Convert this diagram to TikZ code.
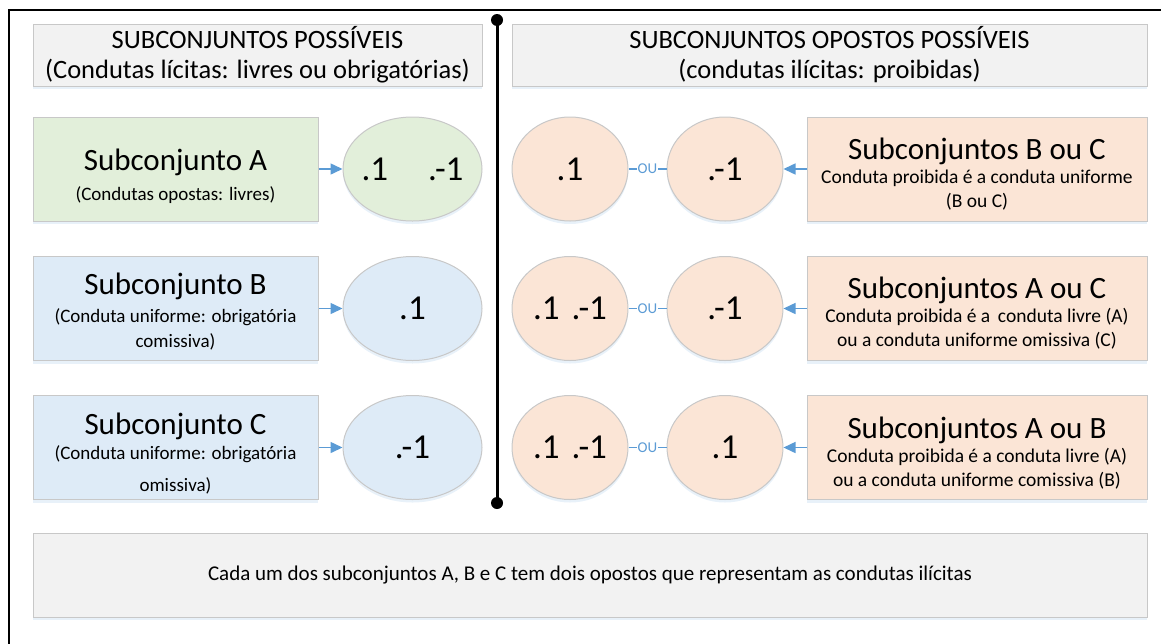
\documentclass[tikz,border=0pt]{standalone}
\usepackage{fontspec}
\setmainfont{Carlito}
\usetikzlibrary{shadows,arrows.meta,positioning,shapes.geometric}
\definecolor{gfill}{HTML}{E2EFDA}
\definecolor{bfill}{HTML}{DEEBF7}
\definecolor{ofill}{HTML}{FBE5D6}
\definecolor{hfill}{HTML}{F2F2F2}
\definecolor{edgec}{HTML}{C8C8C8}
\definecolor{arrowc}{HTML}{5B9BD5}
\definecolor{shadc}{HTML}{BDD7EE}
\tikzset{
  x=1pt, y=-1pt,
  base/.style={draw=edgec, line width=1pt, align=center, inner sep=0pt,
    drop shadow={shadow xshift=0pt, shadow yshift=-3pt, opacity=0.35, fill=shadc}},
  hdr/.style={base, rectangle, fill=hfill, minimum width=449pt, minimum height=62pt, font=\fontsize{26.5}{30}\selectfont},
  boxl/.style={base, rectangle, minimum width=285pt, minimum height=104pt},
  boxr/.style={base, rectangle, fill=ofill, minimum width=340pt, minimum height=104pt},
  txtl/.style={align=center, inner sep=0pt, font=\fontsize{19}{25}\selectfont},
  txtr/.style={align=center, inner sep=0pt, font=\fontsize{19.5}{24}\selectfont},
  numt/.style={inner sep=0pt, font=\fontsize{35}{36}\selectfont},
  ell/.style={base, ellipse, minimum width=139pt, minimum height=104pt, font=\fontsize{35}{36}\selectfont},
  circ/.style={base, ellipse, fill=ofill, minimum width=116pt, minimum height=104pt, font=\fontsize{35}{36}\selectfont},
  arr/.style={draw=arrowc, line width=1.5pt, -{Triangle[length=12pt,width=11pt]}},
  oul/.style={draw=arrowc, line width=1.2pt},
  oulab/.style={text=arrowc, font=\fontsize{15}{15}\selectfont, inner sep=1pt, fill=white},
}
\newcommand{\bigt}{\fontsize{31}{34}\selectfont}
\begin{document}
\begin{tikzpicture}
\useasboundingbox (0,0) rectangle (1161,643);
% outer frame (cropped)
\draw[line width=2pt] (1165,10) -- (9,10) -- (9,650);
% divider
\coordinate (dtop) at (497,20);
\coordinate (dbot) at (497,503);
\draw[line width=3pt] (dtop) -- (dbot);
\fill (dtop) circle (6);
\fill (dbot) circle (6);
% headers
\node[hdr] (h1) at (257.5,55) {SUBCONJUNTOS POSSÍVEIS\\(Condutas lícitas: livres ou obrigatórias)};
\node[hdr, minimum width=635pt] (h2) at (829.5,55) {SUBCONJUNTOS OPOSTOS POSSÍVEIS\\(condutas ilícitas: proibidas)};
% left column
\node[boxl, fill=gfill] (A) at (175.5,169) {};
\node[boxl, fill=bfill] (B) at (175.5,308.5) {};
\node[boxl, fill=bfill] (C) at (175.5,447.5) {};
\node[txtl] (At) at ([yshift=-7pt]A.center) {{\bigt Subconjunto A}\\[5pt](Condutas opostas: livres)};
\node[txtl] (Bt) at ([yshift=-3pt]B.center) {{\bigt Subconjunto B}\\[3pt](Conduta uniforme: obrigatória\\comissiva)};
\node[txtl] (Ct) at ([yshift=-6pt]C.center) {{\bigt Subconjunto C}\\[0pt](Conduta uniforme: obrigatória\\[7pt]omissiva)};
\node[ell, fill=gfill] (eA) at (412.5,169) {};
\node[numt] (eAt) at (eA.center) {.1\hspace{40pt}.-1};
\node[ell, fill=bfill] (eB) at (412.5,308.5) {.1};
\node[ell, fill=bfill] (eC) at (412.5,447.5) {.-1};
\draw[arr] (A.east) -- (eA.west);
\draw[arr] (B.east) -- (eB.west);
\draw[arr] (C.east) -- (eC.west);
% right column
\node[boxr] (RA) at (977,169) {};
\node[boxr] (RB) at (977,308.5) {};
\node[boxr] (RC) at (977,447.5) {};
\node[txtr] (RAt) at ([yshift=-5pt]RA.center) {{\bigt Subconjuntos B ou C}\\Conduta proibida é a conduta uniforme\\(B ou C)};
\node[txtr] (RBt) at ([yshift=-5pt]RB.center) {{\bigt Subconjuntos A ou C}\\Conduta proibida é a\, conduta livre (A)\\ou a conduta uniforme omissiva (C)};
\node[txtr] (RCt) at ([yshift=-6pt]RC.center) {{\bigt Subconjuntos A ou B}\\Conduta proibida é a conduta livre (A)\\ou a conduta uniforme comissiva (B)};
\node[circ] (p1) at (570,169) {.1};
\node[circ] (q1) at (725,169) {.-1};
\node[circ] (p2) at (570,308.5) {.1\hspace{12pt}.-1};
\node[circ] (q2) at (725,308.5) {.-1};
\node[circ] (p3) at (570,447.5) {.1\hspace{12pt}.-1};
\node[circ] (q3) at (725,447.5) {.1};
\draw[arr] (RA.west) -- (q1.east);
\draw[arr] (RB.west) -- (q2.east);
\draw[arr] (RC.west) -- (q3.east);
\draw[oul] (p1.east) -- node[oulab] {OU} (q1.west);
\draw[oul] (p2.east) -- node[oulab] {OU} (q2.west);
\draw[oul] (p3.east) -- node[oulab] {OU} (q3.west);
% bottom note
\node[base, rectangle, fill=hfill, minimum width=1114pt, minimum height=84pt, font=\fontsize{21}{24}\selectfont] (note) at (590,575) {Cada um dos subconjuntos A, B e C tem dois opostos que representam as condutas ilícitas};
\end{tikzpicture}
\end{document}
